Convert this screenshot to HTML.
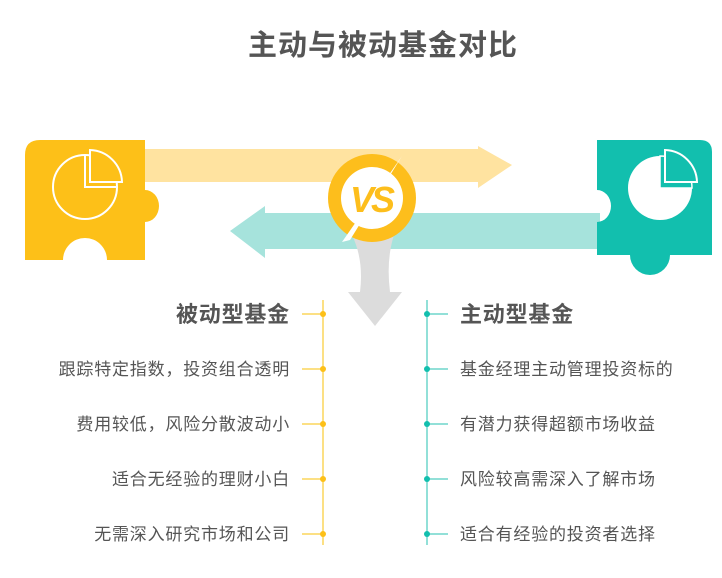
<!DOCTYPE html>
<html><head><meta charset="utf-8"><style>
body{margin:0;background:#fff;}
svg text{font-family:"Liberation Sans","Noto Sans CJK SC",sans-serif;}
</style></head><body>
<svg width="722" height="573" viewBox="0 0 722 573" xmlns="http://www.w3.org/2000/svg">
<text x="383" y="55" text-anchor="middle" font-size="29" font-weight="bold" fill="#555" letter-spacing="1">主动与被动基金对比</text>
<!-- yellow arrow -->
<path d="M140 149 H478 V146 L512 165 L478 188 V182 H140 Z" fill="#FFE3A0"/>
<!-- teal arrow -->
<path d="M600 213 H265 V206 L230 231 L265 258 V249 H600 Z" fill="#A6E3DC"/>
<!-- gray arrow -->
<path d="M352 235 H394 Q386 260 390 292 H402 L375 326 L348 292 H360 Q364 260 352 235 Z" fill="#DCDCDC"/>
<!-- left puzzle -->
<path d="M40 140 H145 V190 A14 16 0 0 1 145 222 V260 H107 A22 22 0 1 0 63 260 H25 V155 Q25 140 40 140 Z" fill="#FDC018"/>
<circle cx="85" cy="187" r="32" fill="none" stroke="#fff" stroke-width="2"/>
<path d="M85 155 V187 H117" fill="#FDC018" stroke="#fff" stroke-width="2"/>
<path d="M90 150 A33 33 0 0 1 122 182 H90 Z" fill="#FDC018" stroke="#fff" stroke-width="2"/>
<!-- right puzzle -->
<path d="M612 140 H700 Q712 140 712 152 V255 H670 A20 20 0 1 1 630 255 H597 V222 A14 16 0 0 0 597 190 V140 Z" fill="#12BFAE"/>
<circle cx="660" cy="188" r="32" fill="#fff"/>
<path d="M660 156 V188 H692 A32 32 0 0 0 660 156 Z" fill="#12BFAE" stroke="#fff" stroke-width="1.5"/>
<path d="M665 150 A33 33 0 0 1 697 182 H665 Z" fill="#12BFAE" stroke="#fff" stroke-width="2"/>
<!-- VS -->
<circle cx="372" cy="198" r="44" fill="#FDBE1C"/>
<circle cx="372" cy="198" r="31" fill="#fff"/>
<path d="M402 156 L342 242 L350 240 Z" fill="#fff"/>
<text x="371" y="212" text-anchor="middle" font-size="36" font-weight="bold" font-style="italic" fill="#FDBE1C" letter-spacing="-3">VS</text>
<!-- timelines -->
<line x1="323" y1="300" x2="323" y2="545" stroke="#FCD55C" stroke-width="1.5"/>
<line x1="427" y1="300" x2="427" y2="545" stroke="#6FD6CB" stroke-width="1.5"/>
<g stroke="#FCD55C" stroke-width="1.5">
<line x1="302" y1="314" x2="323" y2="314"/><line x1="302" y1="369" x2="323" y2="369"/><line x1="302" y1="424" x2="323" y2="424"/><line x1="302" y1="479" x2="323" y2="479"/><line x1="302" y1="534" x2="323" y2="534"/>
</g>
<g stroke="#6FD6CB" stroke-width="1.5">
<line x1="427" y1="314" x2="448" y2="314"/><line x1="427" y1="369" x2="448" y2="369"/><line x1="427" y1="424" x2="448" y2="424"/><line x1="427" y1="479" x2="448" y2="479"/><line x1="427" y1="534" x2="448" y2="534"/>
</g>
<g fill="#FDC018"><circle cx="323" cy="314" r="3"/><circle cx="323" cy="369" r="3"/><circle cx="323" cy="424" r="3"/><circle cx="323" cy="479" r="3"/><circle cx="323" cy="534" r="3"/></g>
<g fill="#12BFAE"><circle cx="427" cy="314" r="3"/><circle cx="427" cy="369" r="3"/><circle cx="427" cy="424" r="3"/><circle cx="427" cy="479" r="3"/><circle cx="427" cy="534" r="3"/></g>
<g font-size="17" fill="#555" text-anchor="end" letter-spacing="0.8">
<text x="290" y="322" font-size="22" font-weight="bold">被动型基金</text>
<text x="290" y="375">跟踪特定指数，投资组合透明</text>
<text x="290" y="430">费用较低，风险分散波动小</text>
<text x="290" y="485">适合无经验的理财小白</text>
<text x="290" y="540">无需深入研究市场和公司</text>
</g>
<g font-size="17" fill="#555" letter-spacing="0.8">
<text x="460" y="322" font-size="22" font-weight="bold">主动型基金</text>
<text x="460" y="375">基金经理主动管理投资标的</text>
<text x="460" y="430">有潜力获得超额市场收益</text>
<text x="460" y="485">风险较高需深入了解市场</text>
<text x="460" y="540">适合有经验的投资者选择</text>
</g>
</svg>
</body></html>
